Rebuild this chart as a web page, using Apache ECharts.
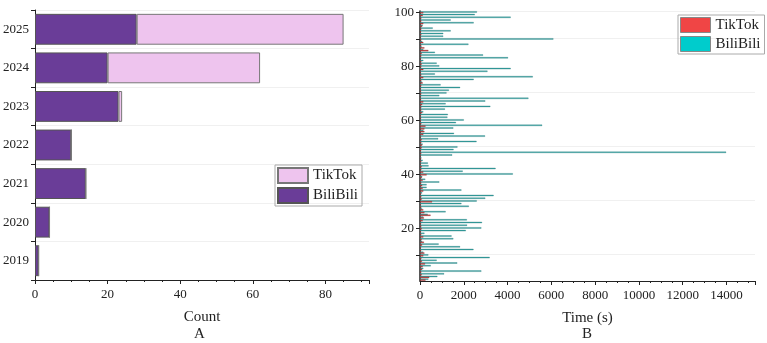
<!DOCTYPE html>
<html>
<head>
<meta charset="utf-8">
<script src="https://cdn.jsdelivr.net/npm/echarts@6/dist/echarts.min.js"></script>
<style>
  html, body { margin: 0; padding: 0; background: #fff; }
  #main { width: 767px; height: 343px; }
</style>
</head>
<body>
<div id="main"></div>
<script type="text/javascript">
// A: count per year
var years = ['2019', '2020', '2021', '2022', '2023', '2024', '2025'];
var countBili = [1, 4, 14, 10, 23, 20, 28];
var countTik = [0, 0, 0, 0, 1, 42, 57];

// B: time (s) per item 1..100
var itemIds = [];
for (var i = 1; i <= 100; i++) itemIds.push(String(i));
var timeBili = [
  380, 790, 1100, 2800, 150, 490, 1700, 760, 3180, 380,
  150, 2440, 1830, 850, 100, 1520, 1440, 200, 2090, 2800,
  2150, 2830, 2140, 150, 350, 1170, 100, 2230, 1890, 2590,
  2980, 3360, 100, 1890, 300, 300, 880, 240, 100, 4240,
  1950, 3450, 390, 360, 120, 60, 1470, 13980, 1530, 1710,
  120, 2580, 830, 2970, 1550, 150, 1520, 5580, 1640, 2000,
  1250, 1270, 150, 1140, 3210, 1170, 2980, 4950, 880, 1210,
  1320, 1830, 940, 100, 2450, 5150, 680, 3080, 4140, 880,
  760, 150, 4020, 2880, 680, 150, 80, 2210, 100, 6090,
  1060, 1060, 1400, 580, 120, 2450, 1400, 4140, 2500, 2600
];
var timeTik = [
  250, 420, 80, 60, 100, 120, 230, 90, 60, 150,
  200, 50, 40, 100, 180, 70, 150, 60, 40, 80,
  60, 50, 120, 180, 480, 200, 150, 60, 40, 550,
  80, 60, 50, 150, 120, 100, 60, 120, 80, 300,
  150, 60, 80, 40, 60, 50, 40, 60, 50, 80,
  100, 60, 80, 40, 150, 200, 200, 250, 60, 40,
  50, 40, 100, 60, 60, 100, 150, 50, 40, 60,
  50, 40, 60, 120, 60, 150, 60, 40, 150, 60,
  80, 60, 40, 60, 80, 380, 200, 60, 150, 60,
  40, 60, 50, 60, 100, 150, 60, 60, 120, 150
];

var serif = "'Liberation Serif', 'Times New Roman', serif";
var ink = '#222';

var myChart = echarts.init(document.getElementById('main'));
var option = {
  backgroundColor: '#fff',
  animation: false,
  textStyle: { fontFamily: serif, color: ink },
  grid: [
    { left: 34, top: 10, width: 335, height: 270 },
    { left: 420, top: 11, width: 335, height: 270 }
  ],
  legend: [
    {
      orient: 'vertical', left: 275, top: 165, icon: 'rect',
      itemWidth: 30, itemHeight: 15, itemGap: 3,
      padding: [2, 4, 2, 2],
      borderColor: '#aaa', borderWidth: 1,
      textStyle: { fontFamily: serif, fontSize: 15, color: ink },
      data: ['TikTok', 'BiliBili']
    },
    {
      orient: 'vertical', left: 678, top: 15, icon: 'rect',
      itemWidth: 30, itemHeight: 15, itemGap: 3,
      padding: [2, 4, 2, 2],
      borderColor: '#aaa', borderWidth: 1,
      textStyle: { fontFamily: serif, fontSize: 15, color: ink },
      formatter: function (n) { return n.slice(2); },
      data: [
        { name: 'B-TikTok', itemStyle: { color: '#f04545', borderColor: '#888', borderWidth: 1 } },
        { name: 'B-BiliBili', itemStyle: { color: '#00cccc', borderColor: '#888', borderWidth: 1 } }
      ]
    }
  ],
  xAxis: [
    {
      gridIndex: 0, type: 'value', min: 0, max: 92, interval: 20,
      name: 'Count', nameLocation: 'middle', nameGap: 30,
      nameTextStyle: { fontFamily: serif, fontSize: 15, color: ink },
      axisLine: { show: true, lineStyle: { color: '#222' } },
      axisTick: { show: true, length: 4, lineStyle: { color: '#222' } },
      minorTick: { show: true, splitNumber: 4, length: 2, lineStyle: { color: '#222' } },
      axisLabel: { fontFamily: serif, fontSize: 13, color: ink, margin: 8, showMaxLabel: false },
      splitLine: { show: false }
    },
    {
      gridIndex: 1, type: 'value', min: 0, max: 15300, interval: 2000,
      name: 'Time (s)', nameLocation: 'middle', nameGap: 30,
      nameTextStyle: { fontFamily: serif, fontSize: 15, color: ink },
      axisLine: { show: true, lineStyle: { color: '#222' } },
      axisTick: { show: true, length: 4, lineStyle: { color: '#222' } },
      minorTick: { show: true, splitNumber: 4, length: 2, lineStyle: { color: '#222' } },
      axisLabel: {
        fontFamily: serif, fontSize: 13, color: ink, margin: 8, showMaxLabel: false,
        formatter: function (v) { return String(v); }
      },
      splitLine: { show: false }
    }
  ],
  yAxis: [
    {
      gridIndex: 0, type: 'category', data: years,
      axisLine: { show: true, lineStyle: { color: '#222' } },
      axisTick: { show: true, length: 4, lineStyle: { color: '#222' } },
      axisLabel: { fontFamily: serif, fontSize: 13, color: ink, margin: 6 },
      splitLine: { show: true, lineStyle: { color: '#f0f0f0' } }
    },
    {
      gridIndex: 1, type: 'category', data: itemIds,
      axisLine: { show: true, lineStyle: { color: '#222', width: 1.5 } },
      axisTick: {
        show: true, length: 4, alignWithLabel: true, lineStyle: { color: '#222' },
        interval: function (idx) { return (idx + 1) % 10 === 0; }
      },
      axisLabel: {
        fontFamily: serif, fontSize: 13, color: ink, margin: 6,
        interval: function (idx) { return (idx + 1) % 20 === 0; }
      },
      splitLine: {
        show: true, lineStyle: { color: '#f0f0f0' },
        interval: function (idx) { return idx % 20 === 10; }
      }
    }
  ],
  graphic: [
    { type: 'text', left: 194, top: 327, style: { text: 'A', font: '15px ' + serif, fill: ink } },
    { type: 'text', left: 582, top: 327, style: { text: 'B', font: '15px ' + serif, fill: ink } }
  ],
  series: [
    {
      name: 'BiliBili', type: 'bar', stack: 'a', xAxisIndex: 0, yAxisIndex: 0,
      data: countBili, barCategoryGap: '20%',
      itemStyle: { color: '#6a3d98', borderColor: '#555', borderWidth: 1 }
    },
    {
      name: 'TikTok', type: 'bar', stack: 'a', xAxisIndex: 0, yAxisIndex: 0,
      data: countTik, barCategoryGap: '20%',
      itemStyle: { color: '#eec4ee', borderColor: '#777', borderWidth: 1 }
    },
    {
      name: 'B-BiliBili', type: 'bar', xAxisIndex: 1, yAxisIndex: 1,
      data: timeBili, barCategoryGap: '20%', barGap: '-30%',
      itemStyle: { color: '#35a3a3', borderColor: '#2a7878', borderWidth: 0.3 }
    },
    {
      name: 'B-TikTok', type: 'bar', xAxisIndex: 1, yAxisIndex: 1,
      data: timeTik, barCategoryGap: '20%', barGap: '-30%',
      itemStyle: { color: '#c43c3c', borderColor: '#8a2a2a', borderWidth: 0.3 }
    }
  ]
};
myChart.setOption(option);
</script>
</body>
</html>
